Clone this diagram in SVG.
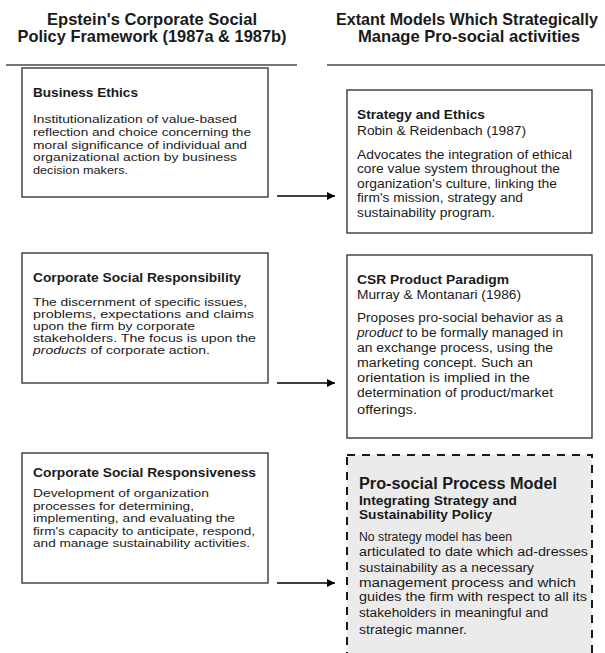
<svg xmlns="http://www.w3.org/2000/svg" width="605" height="653" viewBox="0 0 605 653">
  <style>
    text { font-family: "Liberation Sans", Arial, sans-serif; fill: #1a1a1a; }
    .hdr { font-size: 16.5px; font-weight: bold; text-anchor: middle; }
    .ttl { font-size: 13px; font-weight: bold; }
    .big { font-size: 16px; font-weight: bold; }
    .sub { font-size: 13px; font-weight: bold; }
    .ref { font-size: 12px; }
    .txt { font-size: 11.5px; }
    .txr { font-size: 12px; }
    .box { fill: #ffffff; stroke: #3a3a3a; stroke-width: 1.4; }
    .dash { fill: #ebebeb; stroke: #1a1a1a; stroke-width: 2; stroke-dasharray: 8 7; }
    .rule { stroke: #4a4a4a; stroke-width: 1.6; }
    .conn { stroke: #000000; stroke-width: 1.6; fill: none; marker-end: url(#head); }
  </style>
  <defs>
    <marker id="head" viewBox="0 0 10 10" refX="10" refY="5" markerWidth="5" markerHeight="5" markerUnits="strokeWidth" orient="auto">
      <path d="M0,0 L10,5 L0,10 z" fill="#000000"/>
    </marker>
  </defs>

  <rect width="605" height="653" fill="#ffffff"/>

  <!-- column headings -->
  <g id="header-left">
    <text class="hdr" x="152" y="25" textLength="210" lengthAdjust="spacingAndGlyphs">Epstein's Corporate Social</text>
    <text class="hdr" x="152" y="42" textLength="269" lengthAdjust="spacingAndGlyphs">Policy Framework (1987a &amp; 1987b)</text>
    <line class="rule" x1="6" y1="65" x2="297" y2="65"/>
  </g>
  <g id="header-right">
    <text class="hdr" x="467" y="25" textLength="262" lengthAdjust="spacingAndGlyphs">Extant Models Which Strategically</text>
    <text class="hdr" x="469" y="42" textLength="222" lengthAdjust="spacingAndGlyphs">Manage Pro-social activities</text>
    <line class="rule" x1="327" y1="65" x2="605" y2="65"/>
  </g>

  <!-- left column: Epstein framework -->
  <g id="business-ethics">
    <rect class="box" x="22" y="68" width="246" height="129"/>
    <text class="ttl" x="33" y="97" textLength="105" lengthAdjust="spacingAndGlyphs">Business Ethics</text>
    <text class="txt" x="33" y="123" textLength="204" lengthAdjust="spacingAndGlyphs">Institutionalization of value-based</text>
    <text class="txt" x="33" y="136" textLength="218" lengthAdjust="spacingAndGlyphs">reflection and choice concerning the</text>
    <text class="txt" x="33" y="149" textLength="214" lengthAdjust="spacingAndGlyphs">moral significance of individual and</text>
    <text class="txt" x="33" y="161" textLength="204" lengthAdjust="spacingAndGlyphs">organizational action by business</text>
    <text class="txt" x="33" y="174" textLength="95" lengthAdjust="spacingAndGlyphs">decision makers.</text>
  </g>

  <g id="corporate-social-responsibility">
    <rect class="box" x="22" y="253" width="246" height="130"/>
    <text class="ttl" x="33" y="282" textLength="208" lengthAdjust="spacingAndGlyphs">Corporate Social Responsibility</text>
    <text class="txt" x="33" y="306" textLength="214" lengthAdjust="spacingAndGlyphs">The discernment of specific issues,</text>
    <text class="txt" x="33" y="318" textLength="221" lengthAdjust="spacingAndGlyphs">problems, expectations and  claims</text>
    <text class="txt" x="33" y="330" textLength="162" lengthAdjust="spacingAndGlyphs">upon the firm by corporate</text>
    <text class="txt" x="33" y="342" textLength="223" lengthAdjust="spacingAndGlyphs">stakeholders.  The focus is upon the</text>
    <text class="txt" x="33" y="354" textLength="177" lengthAdjust="spacingAndGlyphs"><tspan font-style="italic">products</tspan> of corporate action.</text>
  </g>

  <g id="corporate-social-responsiveness">
    <rect class="box" x="22" y="453" width="246" height="130"/>
    <text class="ttl" x="33" y="477" textLength="223" lengthAdjust="spacingAndGlyphs">Corporate Social Responsiveness</text>
    <text class="txt" x="33" y="497" textLength="176" lengthAdjust="spacingAndGlyphs">Development of organization</text>
    <text class="txt" x="33" y="510" textLength="161" lengthAdjust="spacingAndGlyphs">processes for determining,</text>
    <text class="txt" x="33" y="522" textLength="202" lengthAdjust="spacingAndGlyphs">implementing, and evaluating the</text>
    <text class="txt" x="33" y="535" textLength="222" lengthAdjust="spacingAndGlyphs">firm's capacity to anticipate, respond,</text>
    <text class="txt" x="33" y="547" textLength="217" lengthAdjust="spacingAndGlyphs">and manage sustainability activities.</text>
  </g>

  <!-- right column: extant models -->
  <g id="strategy-and-ethics">
    <rect class="box" x="347" y="90" width="245" height="143"/>
    <text class="ttl" x="357" y="119" textLength="128" lengthAdjust="spacingAndGlyphs">Strategy and Ethics</text>
    <text class="ref" x="357" y="135" textLength="169" lengthAdjust="spacingAndGlyphs">Robin &amp; Reidenbach (1987)</text>
    <text class="txr" x="357" y="159" textLength="215" lengthAdjust="spacingAndGlyphs">Advocates the integration of ethical</text>
    <text class="txr" x="357" y="173" textLength="203" lengthAdjust="spacingAndGlyphs">core value system throughout the</text>
    <text class="txr" x="357" y="188" textLength="200" lengthAdjust="spacingAndGlyphs">organization's culture, linking the</text>
    <text class="txr" x="357" y="202" textLength="166" lengthAdjust="spacingAndGlyphs">firm's mission, strategy and</text>
    <text class="txr" x="357" y="217" textLength="138" lengthAdjust="spacingAndGlyphs">sustainability program.</text>
  </g>

  <g id="csr-product-paradigm">
    <rect class="box" x="347" y="255" width="245" height="183"/>
    <text class="ttl" x="357" y="284" textLength="152" lengthAdjust="spacingAndGlyphs">CSR Product Paradigm</text>
    <text class="ref" x="357" y="299" textLength="164" lengthAdjust="spacingAndGlyphs">Murray &amp; Montanari (1986)</text>
    <text class="txr" x="357" y="322" textLength="206" lengthAdjust="spacingAndGlyphs">Proposes pro-social behavior as a</text>
    <text class="txr" x="357" y="337" textLength="206" lengthAdjust="spacingAndGlyphs"><tspan font-style="italic">product</tspan> to be formally managed in</text>
    <text class="txr" x="357" y="352" textLength="196" lengthAdjust="spacingAndGlyphs">an exchange process, using the</text>
    <text class="txr" x="357" y="367" textLength="176" lengthAdjust="spacingAndGlyphs">marketing concept.  Such an</text>
    <text class="txr" x="357" y="382" textLength="173" lengthAdjust="spacingAndGlyphs">orientation is implied in the</text>
    <text class="txr" x="357" y="397" textLength="196" lengthAdjust="spacingAndGlyphs">determination of product/market</text>
    <text class="txr" x="357" y="414" textLength="60" lengthAdjust="spacingAndGlyphs">offerings.</text>
  </g>

  <g id="pro-social-process-model">
    <rect class="dash" x="347" y="455" width="245" height="210"/>
    <text class="big" x="359" y="489" textLength="198" lengthAdjust="spacingAndGlyphs">Pro-social Process Model</text>
    <text class="sub" x="359" y="505" textLength="158" lengthAdjust="spacingAndGlyphs">Integrating Strategy and</text>
    <text class="sub" x="359" y="519" textLength="133" lengthAdjust="spacingAndGlyphs">Sustainability Policy</text>
    <text class="txr" x="359" y="541" textLength="153" lengthAdjust="spacingAndGlyphs">No strategy model has been</text>
    <text class="txr" x="359" y="556" textLength="229" lengthAdjust="spacingAndGlyphs">articulated to date which ad-dresses</text>
    <text class="txr" x="359" y="572" textLength="175" lengthAdjust="spacingAndGlyphs">sustainability as a necessary</text>
    <text class="txr" x="359" y="587" textLength="217" lengthAdjust="spacingAndGlyphs">management process and which</text>
    <text class="txr" x="359" y="601" textLength="228" lengthAdjust="spacingAndGlyphs">guides the firm with respect to all its</text>
    <text class="txr" x="359" y="617" textLength="189" lengthAdjust="spacingAndGlyphs">stakeholders in meaningful and</text>
    <text class="txr" x="359" y="634" textLength="108" lengthAdjust="spacingAndGlyphs">strategic manner.</text>
  </g>

  <!-- connectors from framework to models -->
  <g id="connectors">
    <line class="conn" x1="277" y1="196" x2="335" y2="196"/>
    <line class="conn" x1="277" y1="383" x2="335" y2="383"/>
    <line class="conn" x1="277" y1="583" x2="335" y2="583"/>
  </g>
</svg>
